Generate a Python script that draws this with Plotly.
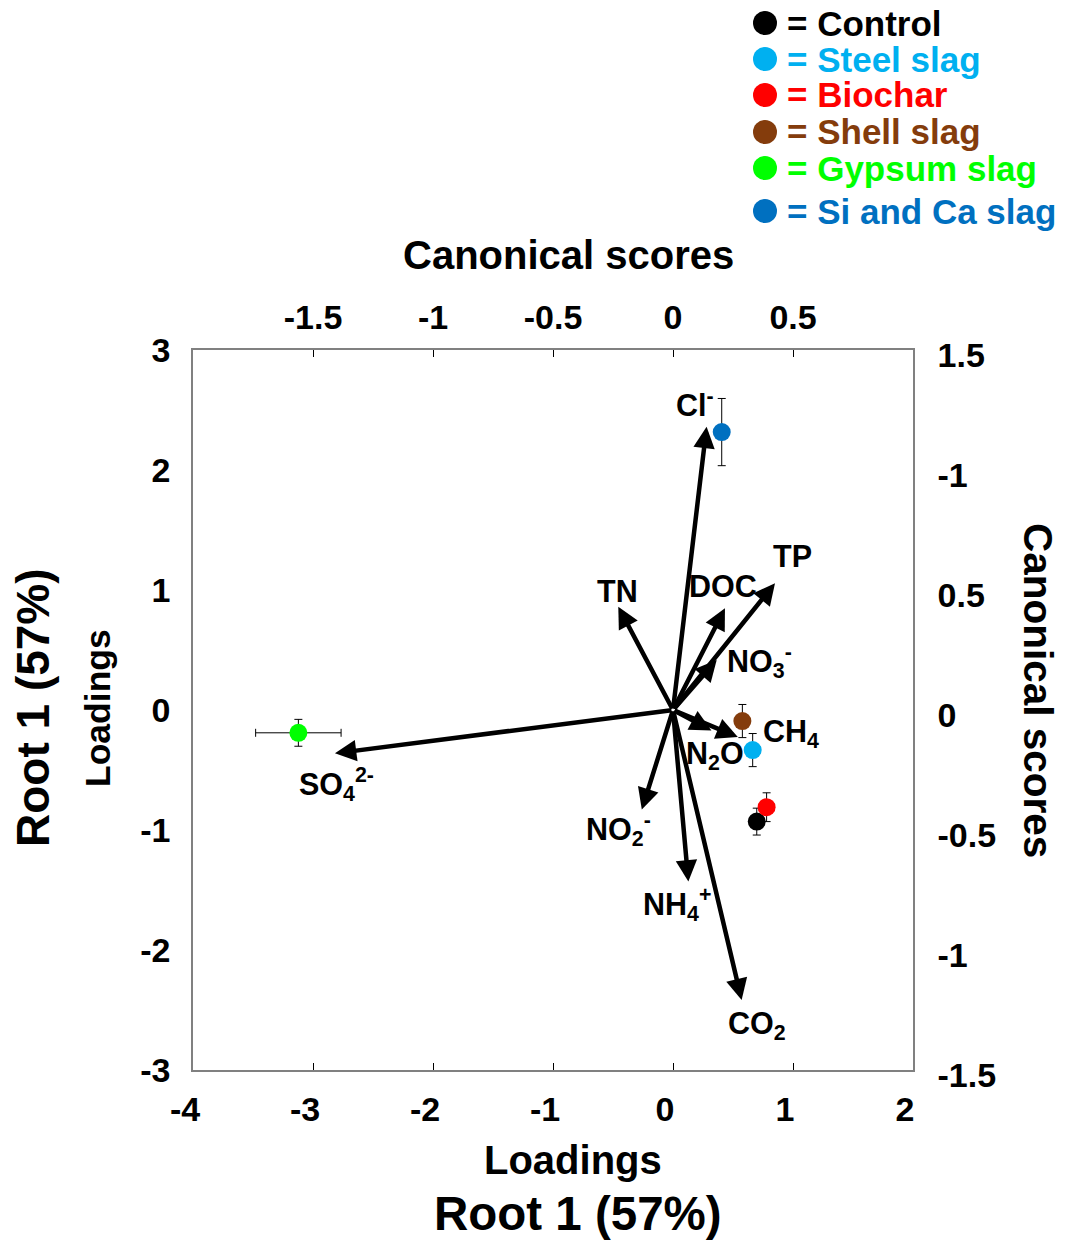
import plotly.graph_objects as go

# ---------------- data ----------------
treatments = ["Control", "Steel slag", "Biochar", "Shell slag", "Gypsum slag", "Si and Ca slag"]
score_x = [0.349, 0.332, 0.390, 0.289, -1.561, 0.203]
score_y = [-0.465, -0.167, -0.405, -0.046, -0.095, 1.158]
score_x_err = [0.03, 0.03, 0.03, 0.0, 0.178, 0.0]
score_y_err = [0.056, 0.069, 0.060, 0.069, 0.056, 0.140]

variables = ["Cl<sup>-</sup>", "TN", "DOC", "TP", "NO<sub>3</sub><sup>-</sup>", "CH<sub>4</sub>",
             "N<sub>2</sub>O", "NO<sub>2</sub><sup>-</sup>", "NH<sub>4</sub><sup>+</sup>",
             "CO<sub>2</sub>", "SO<sub>4</sub><sup>2-</sup>"]
load_x = [0.28, -0.456, 0.433, 0.85, 0.364, 0.54, 0.32, -0.26, 0.128, 0.572, -2.817]
load_y = [2.36, 0.861, 0.847, 1.056, 0.417, -0.225, -0.17, -0.83, -1.43, -2.417, -0.361]

bottom_tickvals = [-4, -3, -2, -1, 0, 1, 2]
bottom_ticktext = ["-4", "-3", "-2", "-1", "0", "1", "2"]
left_tickvals = [-3, -2, -1, 0, 1, 2, 3]
left_ticktext = ["-3", "-2", "-1", "0", "1", "2", "3"]
top_tickvals = [-1.5, -1, -0.5, 0, 0.5]
top_ticktext = ["-1.5", "-1", "-0.5", "0", "0.5"]
right_tickvals = [1.5, 1, 0.5, 0, -0.5, -1, -1.5]
right_ticktext = ["1.5", "-1", "0.5", "0", "-0.5", "-1", "-1.5"]

# ---------------- styles / positions ----------------
colors = ["#000000", "#00B0F0", "#FF0000", "#843C0C", "#00FF00", "#0070C0"]
FONT = "Arial, Liberation Sans, sans-serif"
AXIS_GREY = "#808080"
# label offsets (pixels) relative to the arrow tips: (xshift, yshift)
label_offsets = [(-12, 24), (-1, 16), (-2, 22), (17, 27), (43, -2), (53, 4),
                 (4, -25), (-23, -20), (-11, -23), (15, -25), (2, -31)]
# legend rows: y pixel of row centres (reference frame)
legend_rows_px = [23, 59, 95, 132, 168, 211]

OFF = 8                      # browser body margin
W, H = 1069 - OFF, 1243 - OFF
L, R, T, B = 193, 913, 350, 1070   # plot area in reference pixels
PW, PH = R - L, B - T


def px2paper(px, py):
    return (px - L) / PW, (B - py) / PH


fig = go.Figure()

# treatment scores (secondary axes)
for i, name in enumerate(treatments):
    fig.add_trace(go.Scatter(
        x=[score_x[i]], y=[score_y[i]], xaxis="x2", yaxis="y2",
        mode="markers", name=name, showlegend=False,
        marker=dict(size=18, color=colors[i]),
        error_x=dict(type="data", array=[score_x_err[i]], color="black", thickness=1, width=4),
        error_y=dict(type="data", array=[score_y_err[i]], color="black", thickness=1, width=4),
    ))

annotations = []
# loading arrows
for i, v in enumerate(variables):
    annotations.append(dict(
        x=load_x[i], y=load_y[i], xref="x", yref="y",
        ax=0, ay=0, axref="x", ayref="y", text="",
        showarrow=True, arrowhead=2, arrowsize=0.95, arrowwidth=4.5,
        arrowcolor="black", standoff=0, startstandoff=0,
    ))
    dx, dy = label_offsets[i]
    annotations.append(dict(
        x=load_x[i], y=load_y[i], xref="x", yref="y", text=v, showarrow=False,
        xshift=dx, yshift=dy, xanchor="center", yanchor="middle",
        font=dict(family=FONT, size=30.5, color="black", weight="bold"),
    ))


def title_ann(text, px, py, size, angle=0):
    x, y = px2paper(px, py)
    return dict(x=x, y=y, xref="paper", yref="paper", text=text, showarrow=False,
                xanchor="center", yanchor="middle", textangle=angle,
                font=dict(family=FONT, size=size, color="black", weight="bold"))


annotations += [
    title_ann("Canonical scores", 568, 255, 40),
    title_ann("Loadings", 573, 1160, 40),
    title_ann("Root 1 (57%)", 578, 1213, 47.5),
    title_ann("Root 1 (57%)", 33, 708, 46, -90),
    title_ann("Loadings", 98, 708, 35.5, -90),
    title_ann("Canonical scores", 1038, 690, 40.5, 90),
]

# legend (markers + coloured text)
shapes = []
r = 12
for i, name in enumerate(treatments):
    cy = legend_rows_px[i]
    x0, y0 = px2paper(765 - r, cy + r)
    x1, y1 = px2paper(765 + r, cy - r)
    shapes.append(dict(type="circle", xref="paper", yref="paper", x0=x0, y0=y0, x1=x1, y1=y1,
                       fillcolor=colors[i], line=dict(width=0)))
    tx, ty = px2paper(785, cy)
    annotations.append(dict(x=tx, y=ty, xref="paper", yref="paper", text="= " + name,
                            showarrow=False, xanchor="left", yanchor="middle",
                            font=dict(family=FONT, size=35, color=colors[i], weight="bold")))

tickfont = dict(family=FONT, size=34, color="black", weight="bold")
axis_common = dict(showline=True, linecolor=AXIS_GREY, linewidth=1.5, showgrid=False,
                   zeroline=False, tickfont=tickfont, tickcolor="black", ticklen=7, tickwidth=1,
                   tickmode="array")

fig.update_layout(
    width=W, height=H,
    margin=dict(l=L - OFF, r=(1069 - OFF) - (R - OFF), t=T - OFF, b=(1243 - OFF) - (B - OFF),
                autoexpand=False),
    paper_bgcolor="white", plot_bgcolor="white",
    showlegend=False,
    xaxis=dict(range=[-4, 2], tickvals=bottom_tickvals, ticktext=bottom_ticktext,
               ticks="inside", ticklabelstandoff=8, ticklabelshift=-8, **axis_common),
    yaxis=dict(range=[-3, 3], tickvals=left_tickvals, ticktext=left_ticktext, ticks="",
               ticklabelstandoff=14, **axis_common),
    xaxis2=dict(range=[-2, 1], overlaying="x", side="top", anchor="y",
                tickvals=top_tickvals, ticktext=top_ticktext, ticks="inside",
                ticklabelstandoff=6, **axis_common),
    yaxis2=dict(range=[-1.5, 1.5], overlaying="y", side="right", anchor="x",
                tickvals=right_tickvals, ticktext=right_ticktext, ticks="",
                ticklabelstandoff=16, ticklabelshift=5, **axis_common),
    annotations=annotations,
    shapes=shapes,
)

fig.write_html("out.html")
